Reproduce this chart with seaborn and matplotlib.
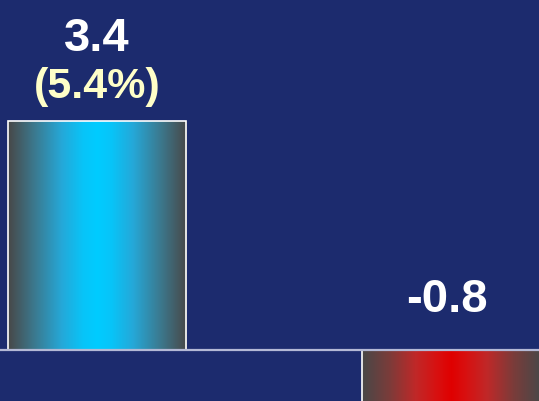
import numpy as np
import pandas as pd
import matplotlib
matplotlib.use("Agg")
import matplotlib.pyplot as plt
from matplotlib.colors import LinearSegmentedColormap
import seaborn as sns

# data
groups = ["A", "B"]
values = [3.4, -0.8]
labels = ["3.4", "-0.8"]
pct_labels = ["(5.4%)", ""]

bg = "#1c2b6e"
sns.set_style("white")
plt.rcParams['font.family'] = ['Liberation Sans', 'DejaVu Sans']

fig = plt.figure(figsize=(5.39, 4.01), dpi=100, facecolor=bg)
ax = fig.add_axes([0, 0, 1, 1])
ax.set_facecolor(bg)

df = pd.DataFrame({"group": groups, "value": values})
sns.barplot(data=df, x="group", y="value", width=0.503, ax=ax,
            color="gray", edgecolor="white", linewidth=1.2, zorder=3)

def sym_cmap(name, stops):
    # mirror the stops around the centre of the bar
    full = stops + [(1 - p, c) for p, c in reversed(stops[:-1])]
    return LinearSegmentedColormap.from_list(name, full)

cmaps = [
    sym_cmap("cy", [(0, "#484848"), (0.15, "#3b7a90"), (0.3, "#25a8d8"),
                    (0.42, "#08c4f8"), (0.5, "#00ccff")]),
    sym_cmap("rd", [(0, "#484848"), (0.15, "#7a3c3a"), (0.3, "#c02828"),
                    (0.42, "#d81010"), (0.5, "#e00000")]),
]
grad = np.linspace(0, 1, 256).reshape(1, -1)
for patch, cm in zip(ax.patches, cmaps):
    patch.set_facecolor("none")
    x0, y0 = patch.get_x(), patch.get_y()
    w, h = patch.get_width(), patch.get_height()
    ax.imshow(grad, cmap=cm, aspect="auto", zorder=2,
              extent=[x0, x0 + w, min(y0, y0 + h), max(y0, y0 + h)])

ax.axhline(0, color="#b4b9d6", lw=1.6, zorder=4)

ax.set_xlim(-0.274, 1.249)
ax.set_ylim(-0.757, 5.197)
ax.axis("off")

ax.text(0, 4.62, labels[0], ha="center", va="center", fontsize=34,
        fontweight="bold", color="white")
ax.text(0, 3.91, pct_labels[0], ha="center", va="center", fontsize=31,
        fontweight="bold", color="#ffffc8")
ax.text(0.99, 0.74, labels[1], ha="center", va="center", fontsize=34,
        fontweight="bold", color="white")

fig.savefig("out.png", dpi=100, facecolor=bg)
